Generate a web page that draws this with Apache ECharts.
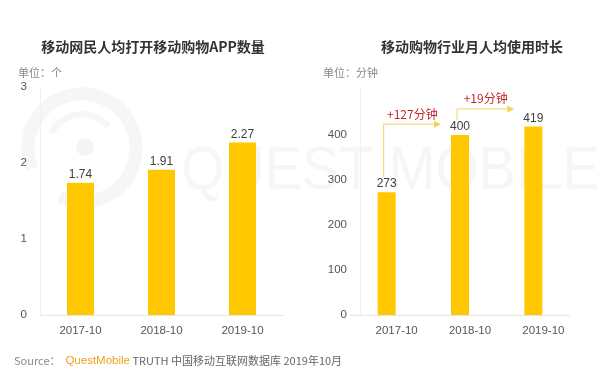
<!DOCTYPE html>
<html><head><meta charset="utf-8">
<script src="https://cdn.jsdelivr.net/npm/echarts@6/dist/echarts.min.js"></script>
<style>html,body{margin:0;padding:0;background:#fff}#c{width:600px;height:380px}</style>
</head><body><div id="c"></div>
<script>
const categories = ['2017-10', '2018-10', '2019-10'];
const appCounts = [1.74, 1.91, 2.27];
const minutes = [273, 400, 419];
const leftTicks = [0, 1, 2, 3];
const rightTicks = [0, 100, 200, 300, 400, 500];
const growthLabels = ['+127分钟', '+19分钟'];
const arrowLevels = [424, 458];

const FONT = '"Liberation Sans", Arial, "Noto Sans CJK SC", sans-serif';
const CJK = '"Noto Sans CJK SC", "Liberation Sans", sans-serif';
const BAR = '#FFC800';
const AXIS = '#E6E6E6';
const WM = '#F6F6F6';

function renderArrow(params, api) {
  const i = api.value(0);
  const p0 = api.coord([i, api.value(1)]);
  const pl = api.coord([i + 1, api.value(2)]);
  const x0 = p0[0] - 3, y0 = p0[1] - 15, y1 = pl[1], x1 = pl[0] - 19;
  const c = '#F5D35A';
  return {
    type: 'group',
    children: [
      { type: 'polyline', shape: { points: [[x0, y0], [x0, y1], [x1 - 5, y1]] },
        style: { stroke: c, lineWidth: 1, fill: null } },
      { type: 'polygon', shape: { points: [[x1, y1], [x1 - 7, y1 - 3.5], [x1 - 7, y1 + 3.5]] },
        style: { fill: c } },
      { type: 'text', x: (x0 + x1) / 2, y: y1 - 10,
        style: { text: growthLabels[params.dataIndex], fill: '#C0282D', fontSize: 12,
          fontFamily: CJK, align: 'center', verticalAlign: 'middle' } }
    ]
  };
}

const xAxisBase = {
  type: 'category', data: categories,
  axisLine: { lineStyle: { color: AXIS } }, axisTick: { show: false },
  axisLabel: { color: '#555', fontSize: 11.5, fontFamily: FONT, margin: 10 }
};
const yAxisBase = {
  type: 'value', splitLine: { show: false },
  axisLine: { show: true, lineStyle: { color: '#F0F0F0' } }, axisTick: { show: false },
  axisLabel: { color: '#555', fontSize: 11.5, fontFamily: FONT }
};
const labelBase = { show: true, position: 'top', distance: 2, color: '#404040', fontSize: 12, fontFamily: FONT };

const chart = echarts.init(document.getElementById('c'), null, { renderer: 'canvas' });
chart.setOption({
  animation: false,
  backgroundColor: '#fff',
  title: [
    { text: '移动网民人均打开移动购物APP数量', left: 148, top: 35, textAlign: 'center',
      textStyle: { fontSize: 14, fontWeight: 'bold', color: '#333', fontFamily: CJK } },
    { text: '移动购物行业月人均使用时长', left: 467, top: 35, textAlign: 'center',
      textStyle: { fontSize: 14, fontWeight: 'bold', color: '#333', fontFamily: CJK } },
    { text: '单位：个', left: 13, top: 62, textStyle: { fontSize: 11, fontWeight: 'normal', color: '#888', fontFamily: CJK } },
    { text: '单位：分钟', left: 318, top: 62, textStyle: { fontSize: 11, fontWeight: 'normal', color: '#888', fontFamily: CJK } }
  ],
  graphic: [
    { type: 'arc', z: -10, shape: { cx: 82, cy: 148, r: 54, startAngle: 2.75, endAngle: 2.75 + Math.PI * 2 - 0.75 },
      style: { stroke: WM, lineWidth: 13, fill: null } },
    { type: 'arc', z: -10, shape: { cx: 82, cy: 148, r: 34, startAngle: 3.6, endAngle: 5.6 },
      style: { stroke: WM, lineWidth: 6, fill: null } },
    { type: 'circle', z: -10, shape: { cx: 85, cy: 147, r: 9 }, style: { fill: '#F4F4F4' } },
    { type: 'text', z: -10, x: 181, y: 172, scaleX: 0.9,
      style: { text: 'QUEST MOBILE', fill: WM, fontSize: 62, fontFamily: FONT, verticalAlign: 'middle' } },
    { type: 'text', left: 14, top: 355,
      style: { rich: {
          a: { fill: '#888', fontSize: 11, fontFamily: CJK },
          b: { fill: '#F0A020', fontSize: 11.5, fontFamily: FONT },
          c: { fill: '#666', fontSize: 11, fontFamily: CJK } },
        text: '{a|Source：  }{b|QuestMobile}{c| TRUTH 中国移动互联网数据库 2019年10月}' } }
  ],
  grid: [
    { left: 40, right: 317, top: 87, bottom: 65 },
    { left: 350, right: 30, top: 90, bottom: 65 }
  ],
  xAxis: [
    Object.assign({}, xAxisBase, { gridIndex: 0 }),
    Object.assign({}, xAxisBase, { gridIndex: 1, axisLabel: Object.assign({}, xAxisBase.axisLabel, { padding: [0, 0, 0, 20] }) })
  ],
  yAxis: [
    Object.assign({}, yAxisBase, { gridIndex: 0, min: leftTicks[0], max: leftTicks[leftTicks.length - 1],
      interval: leftTicks[1] - leftTicks[0], axisLabel: Object.assign({}, yAxisBase.axisLabel, { margin: 13 }) }),
    Object.assign({}, yAxisBase, { gridIndex: 1, min: rightTicks[0], max: rightTicks[rightTicks.length - 1],
      interval: rightTicks[1] - rightTicks[0], offset: -10,
      axisLabel: Object.assign({}, yAxisBase.axisLabel, { margin: 13, showMaxLabel: false }) })
  ],
  series: [
    { type: 'bar', xAxisIndex: 0, yAxisIndex: 0, data: appCounts, barWidth: 27,
      itemStyle: { color: BAR }, label: labelBase },
    { type: 'bar', xAxisIndex: 1, yAxisIndex: 1, data: minutes, barWidth: 18,
      itemStyle: { color: BAR }, label: labelBase },
    { type: 'custom', xAxisIndex: 1, yAxisIndex: 1, renderItem: renderArrow, z: 5,
      encode: { x: 0, y: 1 },
      data: growthLabels.map((t, i) => [i, minutes[i], arrowLevels[i]]) }
  ]
});
</script>
</body></html>
